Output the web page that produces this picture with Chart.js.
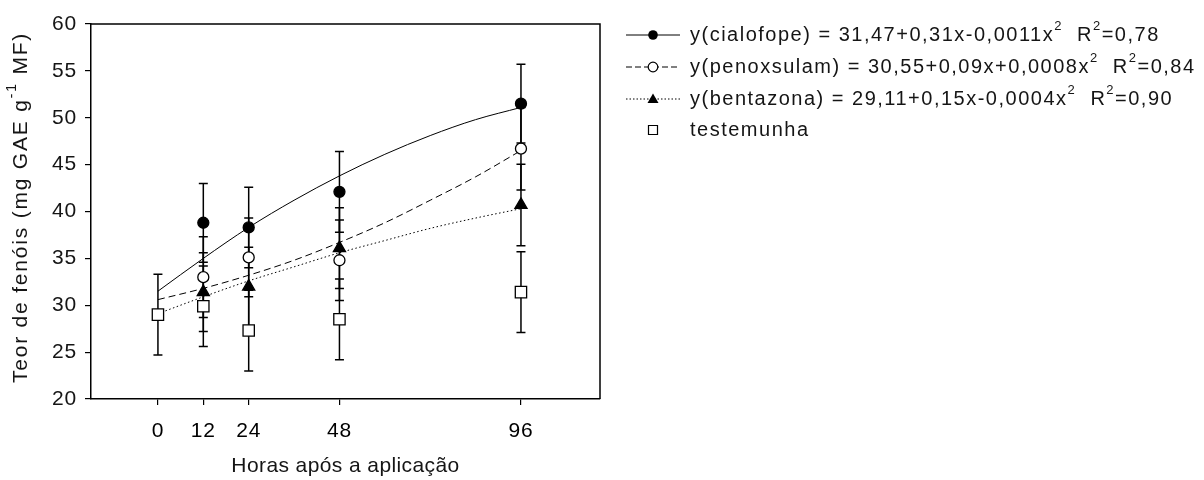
<!DOCTYPE html>
<html>
<head>
<meta charset="utf-8">
<script src="https://cdn.jsdelivr.net/npm/chart.js@4.4.1/dist/chart.umd.min.js"></script>
<style>
  html, body { margin: 0; padding: 0; background: #fff; }
</style>
</head>
<body>
<canvas id="phenolChart" width="1204" height="480"></canvas>
<script>
// measured means (mg GAE g-1 MF) and error bars
const controlHours = [0, 12, 24, 48, 96];
const treatHours = [12, 24, 48, 96];
const xTicks = [0, 12, 24, 48, 96];

const cialofope = [38.8, 38.3, 42.1, 51.5];
const cialofopeErr = [4.2, 4.3, 4.3, 4.2];
const penoxsulam = [33.0, 35.1, 34.8, 46.7];
const penoxsulamErr = [4.3, 4.2, 4.3, 4.4];
const bentazona = [31.4, 32.0, 36.1, 40.7];
const bentazonaErr = [4.2, 4.2, 4.3, 4.35];
const testemunha = [29.0, 29.9, 27.3, 28.5, 31.4];
const testemunhaErr = [4.3, 4.3, 4.3, 4.3, 4.3];

// fitted curves
const fitHours = [0, 12, 24, 36, 48, 60, 72, 84, 96];
const cialofopeFit = [31.5, 35.0, 38.3, 41.2, 43.8, 46.1, 48.1, 49.8, 51.1];
const penoxsulamFit = [30.6, 31.8, 33.2, 34.8, 36.7, 38.8, 41.2, 43.7, 46.5];
const bentazonaFit = [29.1, 30.9, 32.6, 34.1, 35.6, 36.9, 38.2, 39.3, 40.3];

const legendLabels = [
    [['y(cialofope) = 31,47+0,31x-0,0011x'], ['2', 1], ['  R'], ['2', 1], ['=0,78']],
    [['y(penoxsulam) = 30,55+0,09x+0,0008x'], ['2', 1], ['  R'], ['2', 1], ['=0,84']],
    [['y(bentazona) = 29,11+0,15x-0,0004x'], ['2', 1], ['  R'], ['2', 1], ['=0,90']],
    [['testemunha']]
];

const FONT = '"Liberation Sans", Arial, sans-serif';
const TEXT = '#151515';

function pts(xs, ys) {
    return xs.map((x, i) => ({ x: x, y: ys[i] }));
}

function fitLine(data, dash) {
    return {
        type: 'line', data: data, borderColor: '#000', borderWidth: 1,
        borderDash: dash, pointRadius: 0, fill: false,
        cubicInterpolationMode: 'monotone', order: 10
    };
}

function markers(data, errs, style, radius, fillColor, order) {
    return {
        type: 'line', data: data, errors: errs, showLine: false,
        pointStyle: style, pointRadius: radius, pointBorderWidth: 1.3,
        pointBackgroundColor: fillColor, pointBorderColor: '#000', order: order
    };
}

const errorBars = {
    id: 'errorBars',
    beforeDraw(chart) {
        // slightly wider letter spacing for the tick labels, like the original figure
        chart.ctx.letterSpacing = '0.8px';
    },
    beforeDatasetsDraw(chart) {
        const ctx = chart.ctx;
        const xs = chart.scales.x, ys = chart.scales.y;
        ctx.save();
        ctx.strokeStyle = '#000';
        ctx.lineWidth = 1.5;
        chart.data.datasets.forEach(ds => {
            if (!ds.errors) return;
            ds.data.forEach((p, i) => {
                const px = xs.getPixelForValue(p.x);
                const top = ys.getPixelForValue(p.y + ds.errors[i]);
                const bot = ys.getPixelForValue(p.y - ds.errors[i]);
                ctx.beginPath();
                ctx.moveTo(px, top); ctx.lineTo(px, bot);
                ctx.moveTo(px - 4.5, top); ctx.lineTo(px + 4.5, top);
                ctx.moveTo(px - 4.5, bot); ctx.lineTo(px + 4.5, bot);
                ctx.stroke();
            });
        });
        ctx.restore();
    }
};

function partFont(p, size) {
    return (p[1] ? Math.round(size * 0.66) : size) + 'px ' + FONT;
}

function measureRich(ctx, parts, size, spacing) {
    let w = 0;
    ctx.letterSpacing = '0px';
    parts.forEach(p => {
        ctx.font = partFont(p, size);
        w += ctx.measureText(p[0]).width + spacing * p[0].length;
    });
    return w;
}

function drawRich(ctx, parts, x, y, size, spacing) {
    parts.forEach(p => {
        ctx.letterSpacing = '0px';
        ctx.font = partFont(p, size);
        const w = ctx.measureText(p[0]).width + spacing * p[0].length;
        ctx.letterSpacing = spacing + 'px';
        ctx.fillText(p[0], x, p[1] ? y - size * 0.42 : y);
        x += w;
    });
    return x;
}

const decorations = {
    id: 'decorations',
    afterDraw(chart) {
        const ctx = chart.ctx;
        const a = chart.chartArea;
        ctx.save();
        // frame top + right
        ctx.strokeStyle = '#000';
        ctx.lineWidth = 1.5;
        ctx.beginPath();
        ctx.moveTo(a.left, a.top); ctx.lineTo(a.right, a.top); ctx.lineTo(a.right, a.bottom);
        ctx.stroke();

        // axis titles
        ctx.fillStyle = TEXT;
        ctx.textBaseline = 'middle';
        ctx.textAlign = 'left';
        const xParts = [['Horas após a aplicação']];
        const xw = measureRich(ctx, xParts, 21, 0.4);
        drawRich(ctx, xParts, (a.left + a.right) / 2 - xw / 2, 466, 21, 0.4);

        const yParts = [['Teor de fenóis (mg GAE g'], ['-1', 1], [' MF)']];
        ctx.save();
        ctx.translate(21, (a.top + a.bottom) / 2 - 4);
        ctx.rotate(-Math.PI / 2);
        drawRich(ctx, yParts, -measureRich(ctx, yParts, 21, 1.8) / 2, 0, 21, 1.8);
        ctx.restore();

        // legend
        const rowsY = [35, 67, 99, 130];
        const x0 = a.right + 26, x1 = a.right + 80, xm = a.right + 53, xt0 = a.right + 90;
        const dashes = [[], [6, 3], [1.5, 2]];
        rowsY.forEach((ry, i) => {
            ctx.strokeStyle = '#000';
            ctx.lineWidth = 1;
            if (i < 3) {
                ctx.setLineDash(dashes[i]);
                ctx.beginPath(); ctx.moveTo(x0, ry); ctx.lineTo(x1, ry); ctx.stroke();
                ctx.setLineDash([]);
            }
            ctx.lineWidth = 1.2;
            ctx.beginPath();
            if (i === 0) {
                ctx.fillStyle = '#000';
                ctx.arc(xm, ry, 4.8, 0, Math.PI * 2); ctx.fill();
            } else if (i === 1) {
                ctx.fillStyle = '#fff';
                ctx.arc(xm, ry, 4.8, 0, Math.PI * 2); ctx.fill(); ctx.stroke();
            } else if (i === 2) {
                ctx.fillStyle = '#000';
                ctx.moveTo(xm, ry - 5.5); ctx.lineTo(xm + 5.5, ry + 4); ctx.lineTo(xm - 5.5, ry + 4);
                ctx.closePath(); ctx.fill();
            } else {
                ctx.fillStyle = '#fff';
                ctx.rect(xm - 4.5, ry - 4.5, 9, 9); ctx.fill(); ctx.stroke();
            }
            ctx.fillStyle = TEXT;
            drawRich(ctx, legendLabels[i], xt0, ry, 20, 1.5);
        });
        ctx.restore();
    }
};

const axisFont = { family: FONT, size: 21 };

new Chart(document.getElementById('phenolChart'), {
    type: 'line',
    data: {
        datasets: [
            fitLine(pts(fitHours, cialofopeFit), []),
            fitLine(pts(fitHours, penoxsulamFit), [7, 4]),
            fitLine(pts(fitHours, bentazonaFit), [1.5, 2.5]),
            markers(pts(treatHours, cialofope), cialofopeErr, 'circle', 5.5, '#000', 4),
            markers(pts(treatHours, penoxsulam), penoxsulamErr, 'circle', 5.5, '#fff', 3),
            markers(pts(treatHours, bentazona), bentazonaErr, 'triangle', 7, '#000', 2),
            markers(pts(controlHours, testemunha), testemunhaErr, 'rect', 8, '#fff', 1)
        ]
    },
    options: {
        responsive: false,
        animation: false,
        devicePixelRatio: 1,
        layout: { padding: { left: 0, top: 24, right: 604, bottom: 0 } },
        plugins: { legend: { display: false }, tooltip: { enabled: false } },
        scales: {
            x: {
                type: 'linear', min: -17.7, max: 116.9,
                afterBuildTicks: s => { s.ticks = xTicks.map(v => ({ value: v })); },
                afterFit: s => { s.height = 81; },
                grid: { drawOnChartArea: false, drawTicks: true, tickLength: 6, color: '#000', lineWidth: 1.2 },
                border: { color: '#000', width: 1.5 },
                ticks: { font: axisFont, color: '#000', padding: 14, maxRotation: 0 }
            },
            y: {
                min: 20, max: 60,
                afterFit: s => { s.width = 91; },
                grid: { drawOnChartArea: false, drawTicks: true, tickLength: 6, color: '#000', lineWidth: 1.2 },
                border: { color: '#000', width: 1.5 },
                ticks: { stepSize: 5, font: axisFont, color: TEXT, padding: 8 }
            }
        }
    },
    plugins: [errorBars, decorations]
});
</script>
</body>
</html>
